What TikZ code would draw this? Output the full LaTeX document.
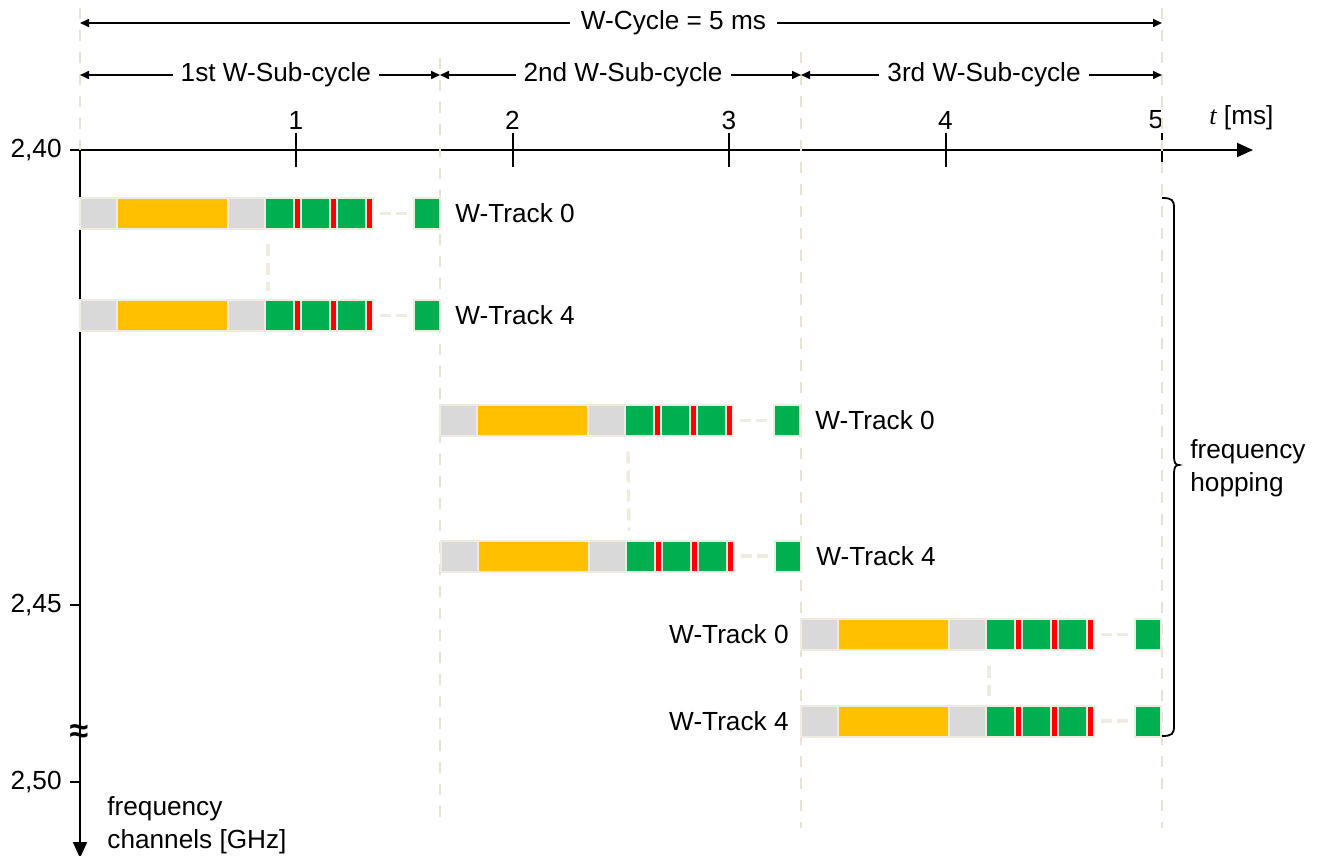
\documentclass[tikz,border=0pt]{standalone}
\usepackage{fontspec}
\setmainfont{Liberation Sans}
\newfontfamily\timesfont{Liberation Serif}
\usetikzlibrary{arrows.meta,calc}

\definecolor{cgray}{HTML}{D9D9D9}
\definecolor{cyel}{HTML}{FFC000}
\definecolor{cgreen}{HTML}{00B050}
\definecolor{cred}{HTML}{FF0000}
\definecolor{cbeige}{HTML}{EEECE1}
\definecolor{cgrid}{HTML}{E6E3D6}

\tikzset{
  seg/.style={draw=cbeige, line width=1pt},
  gap/.style={draw=cbeige, line width=1.7pt, dash pattern=on 5.5pt off 2.5pt},
  vlink/.style={draw=cbeige, line width=1.7pt, dash pattern=on 6pt off 3.5pt},
  grid/.style={draw=cgrid, line width=0.75pt, dash pattern=on 5.5pt off 5.5pt},
  axis/.style={draw=black, line width=1pt},
  dim/.style={draw=black, line width=0.8pt, {Triangle[length=4.5pt,width=4pt]}-{Triangle[length=4.5pt,width=4pt]}},
  dimlbl/.style={fill=white, inner xsep=4pt, inner ysep=1pt},
  lbl/.style={inner sep=0pt},
}

% one W-Track transmission: preamble, payload, three slots, gap, last slot
\newcommand\trackbar[3]{%
  \begin{scope}[shift={(#2,#3)}]
    \draw[seg, fill=cgray] (0,-15.5) rectangle (37,15.5);
    \draw[seg, fill=cyel] (37,-15.5) rectangle (147.5,15.5);
    \draw[seg, fill=cgray] (147.5,-15.5) rectangle (185,15.5);
    \foreach \a in {185,221,257}{
      \draw[seg, fill=cgreen] (\a,-15.5) rectangle (\a+29,15.5);
      \draw[seg, fill=cred] (\a+29,-15.5) rectangle (\a+36,15.5);
    }
    \coordinate (#1-gs) at (300,0);
    \coordinate (#1-ge) at (328,0);
    \draw[gap] (#1-gs) -- (#1-ge);
    \draw[seg, fill=cgreen] (334,-15.5) rectangle (360,15.5);
    \coordinate (#1-start) at (-12,0);
    \coordinate (#1-end) at (375,0);
    \coordinate (#1-ktop) at (188,-25);
    \coordinate (#1-kbot) at (188,31);
  \end{scope}}

\begin{document}
\begin{tikzpicture}[x=0.5pt, y=-0.5pt, font=\fontsize{13.1}{16.5}\selectfont]
  \useasboundingbox (0,0) rectangle (1319,856);

  % axes
  \coordinate (origin) at (80,150);
  \coordinate (tend) at (1253,150);
  \coordinate (fend) at (80,858);
  \draw[axis, -{Triangle[length=8pt,width=7pt]}] (72,150) -- (tend);
  \draw[axis, -{Triangle[length=8pt,width=7pt]}] (origin) -- (fend);

  % time ticks
  \foreach \i/\x/\lx in {1/296/296, 2/512.5/512.5, 3/729/729, 4/945.5/945.5, 5/1162/1156}{
    \draw[axis] (\x,133) -- (\x,167);
    \node[lbl] (tl\i) at (\lx,120) {\i};
  }
  \node[lbl, anchor=west] (tunit) at (1209,118) {{\timesfont\itshape t} [ms]};

  % frequency ticks
  \foreach \n/\y/\t in {a/150/{2,40}, b/605/{2,45}, c/782/{2,50}}{
    \draw[axis] (70,\y) -- (80,\y);
    \node[lbl, anchor=east] (fl\n) at (62,\y) {\t};
  }
  \node[lbl, anchor=north west, align=left] (funit) at (107,796) {frequency\\channels [GHz]};
  \node[inner sep=0pt, font=\fontsize{17}{17}\selectfont\bfseries] (brk) at (79,734) {≈};

  % sub-cycle boundaries
  \draw[grid] (80,8) -- (80,150);
  \draw[grid] (440,58) -- (440,828);
  \draw[grid] (801,52) -- (801,828);
  \draw[grid] (1162,8) -- (1162,828);

  % cycle dimensions
  \coordinate (c0) at (80,23);  \coordinate (c5) at (1162,23);
  \draw[dim] (c0) -- node[dimlbl, pos=0.5485, inner xsep=5.5pt] (wc) {W-Cycle = 5 ms} (c5);
  \coordinate (s0) at (80,75);   \coordinate (s1) at (440,75);
  \coordinate (s2) at (801,75);  \coordinate (s3) at (1162,75);
  \draw[dim] (s0) -- node[dimlbl, pos=0.544] (sc1) {1st W-Sub-cycle} (s1);
  \draw[dim] (s1) -- node[dimlbl, pos=0.507] (sc2) {2nd W-Sub-cycle} (s2);
  \draw[dim] (s2) -- node[dimlbl, pos=0.507] (sc3) {3rd W-Sub-cycle} (s3);

  % W-Track transmissions
  \trackbar{ta}{80}{213.5}
  \trackbar{tb}{80}{315.5}
  \trackbar{tc}{440}{420.5}
  \trackbar{td}{441}{556}
  \trackbar{te}{801}{634.5}
  \trackbar{tf}{801}{721}

  \draw[vlink] (ta-kbot) -- (tb-ktop);
  \draw[vlink] (tc-kbot) -- (td-ktop);
  \draw[vlink] (te-kbot) -- (tf-ktop);

  \node[lbl, anchor=west] (la) at (ta-end) {W-Track 0};
  \node[lbl, anchor=west] (lb) at (tb-end) {W-Track 4};
  \node[lbl, anchor=west] (lc) at (tc-end) {W-Track 0};
  \node[lbl, anchor=west] (ld) at (td-end) {W-Track 4};
  \node[lbl, anchor=east] (le) at (te-start) {W-Track 0};
  \node[lbl, anchor=east] (lf) at (tf-start) {W-Track 4};

  % frequency hopping brace
  \draw[line width=0.9pt] (1162,198) .. controls (1172,198) and (1174,200) .. (1174,208)
    -- (1174,456) .. controls (1174,462) and (1175,465) .. (1179,465)
    .. controls (1175,465) and (1174,468) .. (1174,474)
    -- (1174,726) .. controls (1174,734) and (1172,736) .. (1162,736);
  \node[lbl, anchor=west, align=left] (hop) at (1190,468) {frequency\\hopping};
\end{tikzpicture}
\end{document}
